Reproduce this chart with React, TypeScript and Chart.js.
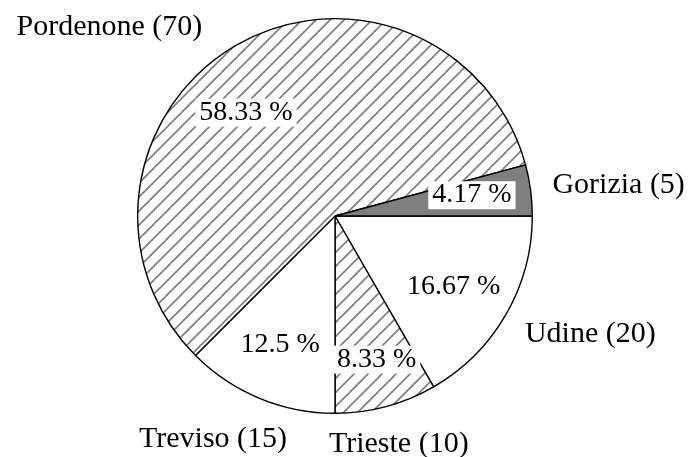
import React, { useEffect, useRef } from "react";
import { Chart, registerables } from "chart.js";

Chart.register(...registerables);

// Slices in drawing order (clockwise from 3 o'clock)
const categories = ["Udine", "Trieste", "Treviso", "Pordenone", "Gorizia"];
const counts = [20, 10, 15, 70, 5];

const total = counts.reduce((a, b) => a + b, 0);
const percentLabels = counts.map(
  (v) => (v / total * 100).toFixed(2).replace(/0+$/, "").replace(/\.$/, "") + " %"
);
const nameLabels = categories.map((c, i) => `${c} (${counts[i]})`);

const SERIF = '"Liberation Serif", "Times New Roman", serif';

function makeHatch(): CanvasPattern | string {
  const T = 14;
  const c = document.createElement("canvas");
  c.width = T;
  c.height = T;
  const g = c.getContext("2d");
  if (!g) return "#ffffff";
  g.fillStyle = "#ffffff";
  g.fillRect(0, 0, T, T);
  g.strokeStyle = "#7d7d7d";
  g.lineWidth = 1.6;
  g.beginPath();
  g.moveTo(0, T);
  g.lineTo(T, 0);
  g.moveTo(-T / 2, T / 2);
  g.lineTo(T / 2, -T / 2);
  g.moveTo(T / 2, T * 1.5);
  g.lineTo(T * 1.5, T / 2);
  g.stroke();
  return g.createPattern(c, "repeat") || "#ffffff";
}

const labelPlugin = {
  id: "pieLabels",
  afterDatasetsDraw(chart: any, _args: any, opts: any) {
    const ctx: CanvasRenderingContext2D = chart.ctx;
    const meta = chart.getDatasetMeta(0);
    ctx.save();
    meta.data.forEach((arc: any, i: number) => {
      const { x, y, startAngle, endAngle, outerRadius } = arc.getProps(
        ["x", "y", "startAngle", "endAngle", "outerRadius"],
        true
      );
      const mid = (startAngle + endAngle) / 2;
      const c = Math.cos(mid);
      const s = Math.sin(mid);

      // inner percentage label with white box
      const pct = opts.percent[i];
      const [ix, iy] = opts.innerNudge[i];
      const px = x + c * outerRadius * 0.7 + ix;
      const py = y + s * outerRadius * 0.7 + iy;
      const fs = 28;
      ctx.font = `${fs}px ${SERIF}`;
      const w = ctx.measureText(pct).width;
      const base = py + 0.33 * fs;
      ctx.fillStyle = "#ffffff";
      ctx.fillRect(px - w / 2 - 4, base - 21, w + 8, 28);
      ctx.fillStyle = "#000000";
      ctx.textAlign = "center";
      ctx.textBaseline = "alphabetic";
      ctx.fillText(pct, px, base);

      // outer name label
      const name = opts.names[i];
      const [ox, oy] = opts.outerNudge[i];
      const R = outerRadius + 22;
      const qx = x + c * R;
      const qy = y + s * R;
      const nfs = 30;
      ctx.font = `${nfs}px ${SERIF}`;
      ctx.textAlign = c > 0.3 ? "left" : c < -0.3 ? "right" : "center";
      const midY = qy + s * 12;
      ctx.fillText(name, qx + ox, midY + 10 + oy);
    });
    ctx.restore();
  },
};

export default function App() {
  const ref = useRef<HTMLCanvasElement | null>(null);

  useEffect(() => {
    document.body.style.margin = "0";
    const canvas = ref.current;
    if (!canvas) return;
    const hatch = makeHatch();
    const fillFor: Record<string, any> = {
      Udine: "#ffffff",
      Trieste: hatch,
      Treviso: "#ffffff",
      Pordenone: hatch,
      Gorizia: "#7f7f7f",
    };
    const chart = new Chart(canvas, {
      type: "pie",
      data: {
        labels: categories,
        datasets: [
          {
            data: counts,
            backgroundColor: categories.map((c) => fillFor[c]),
            borderColor: "#000000",
            borderWidth: 1.4,
            hoverOffset: 0,
          },
        ],
      },
      options: {
        responsive: false,
        maintainAspectRatio: false,
        animation: false,
        rotation: 90,
        layout: { padding: { top: 18, bottom: 43, left: 100, right: 119 } },
        plugins: {
          legend: { display: false },
          tooltip: { enabled: false },
          pieLabels: {
            percent: percentLabels,
            names: nameLabels,
            innerNudge: [
              [-1, 0],
              [6, 8],
              [-2, -1],
              [-20, 14],
              [0, -5],
            ],
            outerNudge: [
              [0, 0],
              [7, 3],
              [36, 7],
              [-23, 9],
              [0, -3],
            ],
          },
        } as any,
      },
      plugins: [labelPlugin],
    });
    return () => chart.destroy();
  }, []);

  return (
    <div style={{ width: 689, height: 457 }}>
      <canvas ref={ref} width={689} height={457} style={{ display: "block" }} />
    </div>
  );
}
